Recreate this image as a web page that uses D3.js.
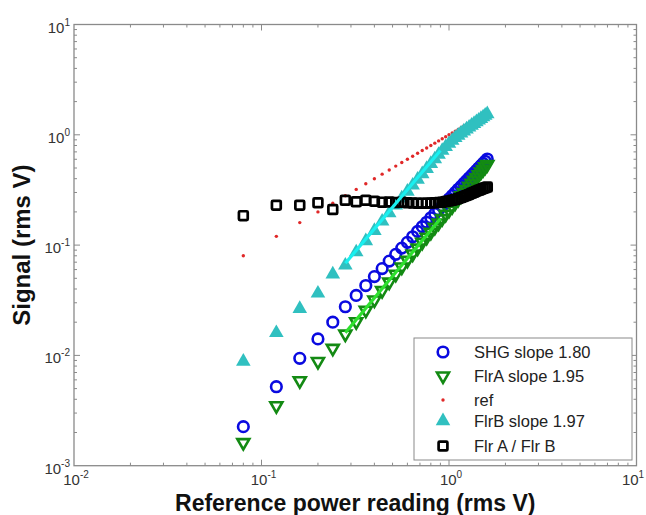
<!DOCTYPE html>
<meta charset="utf-8">
<body style="margin:0;background:#fff">
<svg width="646" height="515"></svg>
<script src="https://cdn.jsdelivr.net/npm/d3@7"></script>
<script>
// reference power reading (rms V)
const xVals = [0.08, 0.12, 0.16, 0.20, 0.24, 0.28, 0.32, 0.36, 0.40, 0.44, 0.48, 0.52, 0.56, 0.60, 0.64, 0.68, 0.72, 0.76, 0.80, 0.84,
  0.88, 0.92, 0.96, 1.00, 1.04, 1.08, 1.12, 1.16, 1.20, 1.24, 1.28, 1.32, 1.36, 1.40, 1.44, 1.48, 1.52, 1.56, 1.60];
const shg = [0.00226, 0.0052, 0.0094, 0.0141, 0.0200, 0.0276, 0.0350, 0.0430, 0.0518, 0.0613, 0.0716, 0.0824, 0.0940, 0.106, 0.119, 0.133, 0.147, 0.161, 0.177, 0.193,
  0.209, 0.226, 0.244, 0.262, 0.281, 0.301, 0.321, 0.341, 0.362, 0.384, 0.406, 0.429, 0.452, 0.476, 0.500, 0.525, 0.550, 0.576, 0.603];
const flrA = [0.00162, 0.0035, 0.0059, 0.0088, 0.0116, 0.0156, 0.0202, 0.0257, 0.0318, 0.0387, 0.0462, 0.0544, 0.0633, 0.0728, 0.0831, 0.0940, 0.106, 0.118, 0.131, 0.145,
  0.159, 0.174, 0.190, 0.207, 0.224, 0.242, 0.260, 0.280, 0.300, 0.320, 0.342, 0.364, 0.387, 0.410, 0.435, 0.460, 0.485, 0.512, 0.539];
const ref = [0.08, 0.12, 0.16, 0.20, 0.24, 0.28, 0.32, 0.36, 0.40, 0.44, 0.48, 0.52, 0.56, 0.60, 0.64, 0.68, 0.72, 0.76, 0.80, 0.84,
  0.88, 0.92, 0.96, 1.00, 1.04, 1.08, 1.12, 1.16, 1.20, 1.24, 1.28, 1.32, 1.36, 1.40, 1.44, 1.48, 1.52, 1.56, 1.60];
const flrB = [0.0088, 0.0160, 0.0265, 0.0365, 0.0545, 0.0655, 0.0863, 0.109, 0.135, 0.164, 0.195, 0.229, 0.266, 0.306, 0.348, 0.393, 0.441, 0.492, 0.546, 0.602,
  0.661, 0.719, 0.777, 0.832, 0.886, 0.938, 0.987, 1.033, 1.077, 1.123, 1.168, 1.214, 1.260, 1.306, 1.353, 1.400, 1.448, 1.496, 1.544];
const ratio = [0.185, 0.230, 0.230, 0.242, 0.210, 0.255, 0.247, 0.255, 0.250, 0.245, 0.246, 0.243, 0.245, 0.242, 0.241, 0.240, 0.240, 0.240, 0.241, 0.242,
  0.243, 0.245, 0.248, 0.251, 0.255, 0.259, 0.264, 0.270, 0.276, 0.282, 0.288, 0.295, 0.301, 0.308, 0.314, 0.320, 0.326, 0.331, 0.336];

const legendLabels = ["SHG slope 1.80", "FlrA slope 1.95", "ref", "FlrB slope 1.97", "Flr A / Flr B"];
const xDecades = [-2, -1, 0, 1];
const yDecades = [-3, -2, -1, 0, 1];
const fitRange = [0.28, 0.9];

const svg = d3.select("svg");
const x = d3.scaleLog().domain([0.01, 10]).range([74, 636.5]);
const y = d3.scaleLog().domain([0.001, 10]).range([465.7, 24.5]);
const [x0, x1] = x.range(), [y0, y1] = y.range();
const axisCol = "#8a8a8a";

const blue = "#0a0ae0", green = "#138a13", teal = "#30c0c0", red = "#e02828";

// frame
svg.append("rect").attr("x", x0).attr("y", y1).attr("width", x1 - x0).attr("height", y0 - y1)
  .attr("fill", "none").attr("stroke", axisCol).attr("stroke-width", 1.3);

// ticks (inside, all four sides)
const minor = v => {
  const out = [];
  for (let d = v[0]; d < v[1]; d++) for (let m = 2; m <= 9; m++) out.push(m * Math.pow(10, d));
  return out;
};
const tg = svg.append("g").attr("stroke", axisCol).attr("stroke-width", 1);
const xMaj = xDecades.slice(1, -1).map(d => Math.pow(10, d));
const yMaj = yDecades.slice(1, -1).map(d => Math.pow(10, d));
[[minor([-2, 1]), 3], [xMaj, 6]].forEach(([vals, len]) => {
  vals.forEach(v => {
    tg.append("line").attr("x1", x(v)).attr("x2", x(v)).attr("y1", y0).attr("y2", y0 - len);
    tg.append("line").attr("x1", x(v)).attr("x2", x(v)).attr("y1", y1).attr("y2", y1 + len);
  });
});
[[minor([-3, 1]), 3], [yMaj, 6]].forEach(([vals, len]) => {
  vals.forEach(v => {
    tg.append("line").attr("y1", y(v)).attr("y2", y(v)).attr("x1", x0).attr("x2", x0 + len);
    tg.append("line").attr("y1", y(v)).attr("y2", y(v)).attr("x1", x1).attr("x2", x1 - len);
  });
});

// tick labels: 10 with superscript exponent
const font = "'Liberation Sans', Arial, sans-serif";
const powLabel = (px, py, d, anchor) => {
  const t = svg.append("text").attr("x", px).attr("y", py).attr("text-anchor", anchor)
    .attr("font-family", font).attr("font-size", 15).attr("fill", "#333");
  t.append("tspan").text("10");
  t.append("tspan").attr("dy", -7).attr("font-size", 10).text(d);
};
xDecades.forEach(d => {
  const px = Math.min(x(Math.pow(10, d)) + 2, 633);
  powLabel(px, 485, d, "middle");
});
yDecades.forEach(d => powLabel(x0 - 4, y(Math.pow(10, d)) + 8, d, "end"));

// axis titles
svg.append("text").attr("x", (x0 + x1) / 2).attr("y", 511).attr("text-anchor", "middle")
  .attr("font-family", font).attr("font-weight", "bold").attr("font-size", 23).attr("fill", "#111")
  .text("Reference power reading (rms V)");
svg.append("text").attr("transform", `translate(30,${(y0 + y1) / 2}) rotate(-90)`).attr("text-anchor", "middle")
  .attr("font-family", font).attr("font-weight", "bold").attr("font-size", 24).attr("fill", "#111")
  .text("Signal (rms V)");

// marker shapes
const triUp = d3.symbol().type(d3.symbolTriangle).size(92)();
const triDn = d3.symbol().type(d3.symbolTriangle).size(62)();
const drawCircle = (g, px, py) => g.append("circle").attr("cx", px).attr("cy", py).attr("r", 5.3)
  .attr("fill", "none").attr("stroke", blue).attr("stroke-width", 2.6);
const drawDown = (g, px, py) => g.append("path").attr("d", triDn)
  .attr("transform", `translate(${px},${py}) rotate(180)`)
  .attr("fill", "none").attr("stroke", green).attr("stroke-width", 2.6);
const drawDot = (g, px, py) => g.append("circle").attr("cx", px).attr("cy", py).attr("r", 1.7).attr("fill", red);
const drawUp = (g, px, py) => g.append("path").attr("d", triUp)
  .attr("transform", `translate(${px},${py})`).attr("fill", teal);
const drawSquare = (g, px, py) => g.append("rect").attr("x", px - 4.4).attr("y", py - 4.4)
  .attr("width", 8.8).attr("height", 8.8).attr("rx", 1)
  .attr("fill", "none").attr("stroke", "#000").attr("stroke-width", 2.7);

const series = [
  { vals: shg, draw: drawCircle },
  { vals: flrA, draw: drawDown },
  { vals: ref, draw: drawDot },
  { vals: flrB, draw: drawUp },
  { vals: ratio, draw: drawSquare }
];

const plot = svg.append("g");
series.forEach(s => {
  const g = plot.append("g");
  xVals.forEach((xv, i) => s.draw(g, x(xv), y(s.vals[i])));
});

// power-law fit lines (least squares in log space) for FlrA and FlrB
const fit = vals => {
  const pts = xVals.map((xv, i) => [Math.log10(xv), Math.log10(vals[i])])
    .filter((p, i) => xVals[i] >= fitRange[0] && xVals[i] <= fitRange[1]);
  const mx = d3.mean(pts, p => p[0]), my = d3.mean(pts, p => p[1]);
  const b = d3.sum(pts, p => (p[0] - mx) * (p[1] - my)) / d3.sum(pts, p => (p[0] - mx) ** 2);
  return xv => Math.pow(10, my + b * (Math.log10(xv) - mx));
};
[[flrB, "#19f0f0"], [flrA, "#2ee02e"]].forEach(([vals, col]) => {
  const f = fit(vals);
  plot.append("line")
    .attr("x1", x(fitRange[0])).attr("y1", y(f(fitRange[0]) * 1.04))
    .attr("x2", x(fitRange[1])).attr("y2", y(f(fitRange[1]) * 1.04))
    .attr("stroke", col).attr("stroke-width", 3.2);
});

// legend
const lg = svg.append("g");
lg.append("rect").attr("x", 414).attr("y", 338).attr("width", 218).attr("height", 122)
  .attr("fill", "#fff").attr("stroke", axisCol).attr("stroke-width", 1);
const rowY = [352, 376, 400, 421, 446];
const legendDraw = [drawCircle, drawDown, drawDot, drawUp, drawSquare];
legendLabels.forEach((lab, i) => {
  legendDraw[i](lg, 443, rowY[i]);
  lg.append("text").attr("x", 474).attr("y", rowY[i] + 6)
    .attr("font-family", font).attr("font-size", 16.5).attr("fill", "#222").text(lab);
});
</script>
</body>
